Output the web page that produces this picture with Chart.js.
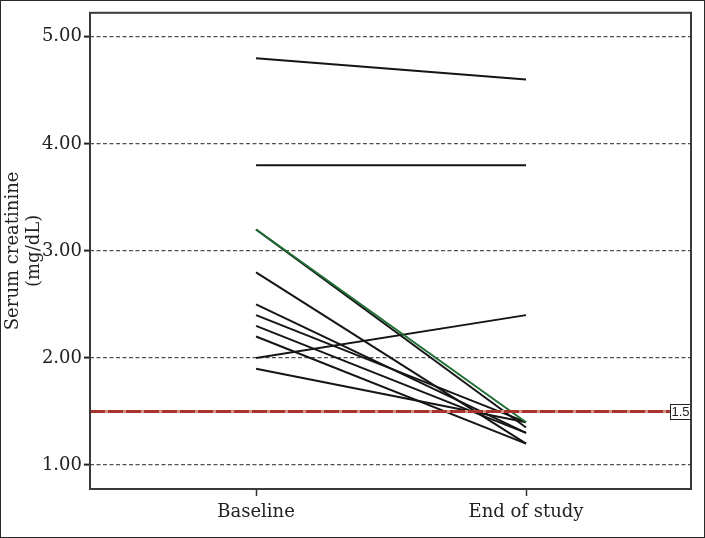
<!DOCTYPE html>
<html>
<head>
<meta charset="utf-8">
<script src="https://cdn.jsdelivr.net/npm/chart.js@4.4.0/dist/chart.umd.min.js"></script>
<style>
  html, body { margin: 0; padding: 0; background: #fff; }
  #wrap { width: 705px; height: 538px; position: relative; }
</style>
</head>
<body>
<div id="wrap"><canvas id="c" width="705" height="538"></canvas></div>
<script>
// ---- data ----
const categories = ['Baseline', 'End of study'];
const baselineValues = [4.8, 3.8, 3.2, 3.2, 2.8, 2.5, 2.4, 2.3, 2.2, 2.0, 1.9];
const endOfStudyValues = [4.6, 3.8, 1.4, 1.35, 1.2, 1.3, 1.4, 1.3, 1.2, 2.4, 1.4];
const highlightedSubject = 2; // drawn in green
const thresholdValue = 1.5;
const thresholdLabel = '1.5';
const yTickValues = [1, 2, 3, 4, 5];
const yAxisTitle = ['Serum creatinine', '(mg/dL)'];

const X_MIN = -0.615, X_MAX = 1.611;
const Y_MIN = 0.776, Y_MAX = 5.224;
const SERIF = "'DejaVu Serif', 'Liberation Serif', serif";

const datasets = [];
datasets.push({
  label: 'threshold-under',
  data: [{x: X_MIN, y: thresholdValue}, {x: X_MAX, y: thresholdValue}],
  borderColor: '#d4918c',
  borderWidth: 3,
  pointRadius: 0,
  order: 1
});
datasets.push({
  label: 'threshold',
  data: [{x: X_MIN, y: thresholdValue}, {x: X_MAX, y: thresholdValue}],
  borderColor: '#a8332f',
  borderWidth: 3,
  borderDash: [15, 3],
  pointRadius: 0,
  order: 0
});
baselineValues.forEach((b, i) => {
  datasets.push({
    label: 'subject ' + (i + 1),
    data: [{x: 0, y: b}, {x: 1, y: endOfStudyValues[i]}],
    borderColor: i === highlightedSubject ? '#1f6e32' : '#151515',
    borderWidth: 2,
    pointRadius: 0,
    order: i === highlightedSubject ? 2 : 3
  });
});

const framePlugin = {
  id: 'frame',
  afterDatasetsDraw(chart) {
    const ctx = chart.ctx;
    const a = chart.chartArea;
    const ys = chart.scales.y;
    // threshold label box
    const yp = ys.getPixelForValue(thresholdValue);
    ctx.save();
    ctx.font = "13px 'Liberation Sans', Arial, sans-serif";
    const bw = 20, bh = 15;
    const bx = Math.round(a.right) - bw - 1;
    const by = Math.round(yp - bh / 2);
    ctx.fillStyle = '#fff';
    ctx.fillRect(bx, by, bw, bh);
    ctx.strokeStyle = '#222';
    ctx.lineWidth = 1;
    ctx.strokeRect(bx + 0.5, by + 0.5, bw, bh);
    ctx.fillStyle = '#222';
    ctx.textAlign = 'center';
    ctx.textBaseline = 'middle';
    ctx.fillText(thresholdLabel, bx + bw / 2 + 0.5, yp + 1);
    ctx.restore();
  },
  afterDraw(chart) {
    const ctx = chart.ctx;
    const a = chart.chartArea;
    ctx.save();
    ctx.strokeStyle = '#3a3a3a';
    ctx.lineWidth = 2;
    ctx.strokeRect(a.left, a.top, a.right - a.left, a.bottom - a.top);
    ctx.strokeStyle = '#2a2a2a';
    ctx.lineWidth = 1;
    ctx.strokeRect(0.5, 0.5, chart.width - 1, chart.height - 1);
    ctx.restore();
  }
};

new Chart(document.getElementById('c'), {
  type: 'line',
  data: { datasets },
  options: {
    responsive: false,
    animation: false,
    layout: { padding: { top: 12, right: 14, bottom: 0, left: 0 } },
    plugins: { legend: { display: false }, tooltip: { enabled: false } },
    scales: {
      x: {
        type: 'linear',
        min: X_MIN, max: X_MAX,
        afterBuildTicks(scale) { scale.ticks = categories.map((c, i) => ({ value: i })); },
        afterFit(scale) { scale.height = 49; },
        ticks: {
          autoSkip: false,
          maxRotation: 0,
          callback: (v) => categories[v],
          font: { family: SERIF, size: 18 },
          color: '#222',
          padding: 6
        },
        grid: {
          drawOnChartArea: false,
          drawTicks: true,
          tickLength: 7,
          tickColor: '#333',
          tickWidth: 1.5
        },
        border: { display: false }
      },
      y: {
        type: 'linear',
        min: Y_MIN, max: Y_MAX,
        afterBuildTicks(scale) { scale.ticks = yTickValues.map(v => ({ value: v })); },
        afterFit(scale) { scale.width = 90; },
        ticks: {
          callback: (v) => Number(v).toFixed(2),
          font: { family: SERIF, size: 18 },
          color: '#222',
          padding: 2
        },
        grid: {
          color: '#505050',
          lineWidth: 1.2,
          drawTicks: true,
          tickLength: 6,
          tickColor: '#222',
          tickWidth: 2,
          tickBorderDash: []
        },
        border: { display: false, dash: [4, 2.5] },
        title: {
          display: true,
          text: yAxisTitle,
          font: { family: SERIF, size: 18, lineHeight: 1.17 },
          color: '#222',
          padding: { top: 3, bottom: 0 }
        }
      }
    }
  },
  plugins: [framePlugin]
});
</script>
</body>
</html>
